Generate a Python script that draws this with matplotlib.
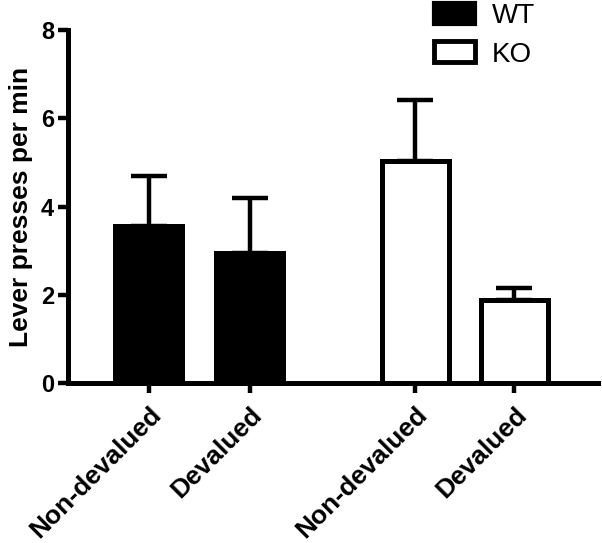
import matplotlib
matplotlib.use("Agg")
import matplotlib.pyplot as plt
from matplotlib.patches import Patch
import numpy as np

plt.rcParams['font.family'] = ['Liberation Sans', 'DejaVu Sans']
plt.rcParams['font.weight'] = 'bold'

categories = ["Non-devalued", "Devalued", "Non-devalued", "Devalued"]
groups = ["WT", "KO"]
wt_means = [3.55, 2.95]
wt_sem = [1.14, 1.25]
ko_means = [5.03, 1.88]
ko_sem = [1.39, 0.27]
yticks = [0, 2, 4, 6, 8]

fig = plt.figure(figsize=(6.02, 5.43), dpi=100)
ax = fig.add_axes([68/602, 1-383/543, 530/602, 353/543])

pos_wt = np.array([0.0, 1.0])
pos_ko = np.array([2.64, 3.62])
w = 0.66
lw = 3.6

ax.bar(pos_wt, wt_means, width=w, color='black', edgecolor='black', linewidth=lw, zorder=3)
ax.bar(pos_ko, ko_means, width=w, color='white', edgecolor='black', linewidth=lw, zorder=3)
ax.errorbar(pos_wt, wt_means, yerr=[np.zeros(2), wt_sem], fmt='none', ecolor='black',
            elinewidth=3.2, capsize=13, capthick=3.2, zorder=2)
ax.errorbar(pos_ko, ko_means, yerr=[np.zeros(2), ko_sem], fmt='none', ecolor='black',
            elinewidth=3.2, capsize=13, capthick=3.2, zorder=2)

ax.set_xlim(-0.80, 4.45)
ax.set_ylim(0, 8)
ax.set_yticks(yticks)
ax.set_yticklabels([str(t) for t in yticks], fontsize=17, fontweight='bold')
ax.set_xticks(np.concatenate([pos_wt, pos_ko]))
ax.set_xticklabels(categories, rotation=45, ha='right', rotation_mode='anchor',
                   fontsize=19, fontweight='bold')
ax.set_ylabel("Lever presses per min", fontsize=19, fontweight='bold', labelpad=6)

for s in ['top', 'right']:
    ax.spines[s].set_visible(False)
for s in ['left', 'bottom']:
    ax.spines[s].set_linewidth(3.6)
ax.tick_params(axis='both', width=3.2, length=7, direction='out', pad=3)
ax.tick_params(axis='x', pad=7)

handles = [Patch(facecolor='black', edgecolor='black', linewidth=3),
           Patch(facecolor='white', edgecolor='black', linewidth=3.5)]
fig.legend(handles, groups, loc='upper left', bbox_to_anchor=(431/602, 1.0),
           frameon=False, prop={'size': 20, 'weight': 'normal'},
           handlelength=1.5, handleheight=0.78,
           labelspacing=0.45, handletextpad=0.6, borderaxespad=0, borderpad=0.1)

fig.savefig("out.png", dpi=100)
